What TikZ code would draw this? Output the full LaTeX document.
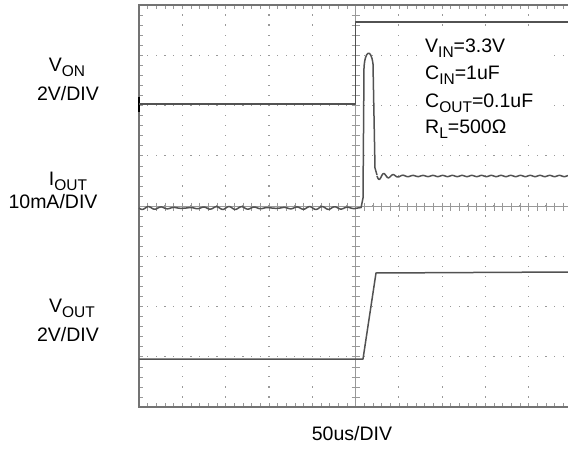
\documentclass[tikz,border=0pt]{standalone}
\usepackage{fontspec}
\setmainfont{Liberation Sans}
\usepackage{tikz}
\usetikzlibrary{positioning}
\tikzset{
    frame/.style = {draw=black!55, line width=1.4pt},
    axis/.style = {draw=black!40, line width=0.6pt},
    gdot/.style = {fill=black!40},
    trace/.style = {draw=black!68, line width=1.5pt, line join=round},
    lbl/.style = {font={\fontsize{19.5pt}{23}\selectfont}, inner sep=0, anchor=base},
    note/.style = {lbl, anchor=base west},
}
\newcommand{\sig}[1]{\raisebox{-5pt}{\fontsize{15.5pt}{16}\selectfont #1}}
\definecolor{scope}{rgb}{1, 1, 1}

\begin{document}
\begin{tikzpicture}[x=1pt, y=-1pt]
        \useasboundingbox (0, 0) rectangle (568, 452);
        \clip (0, 0) rectangle (568, 452);

        % dotted grid
        \foreach \i in {1,...,9} {
            \pgfmathsetmacro\gx{139 + \i*43.3}
            \foreach \j in {1,...,39}
                \fill [gdot] (\gx - 0.6, 5 + \j*10.05 - 0.6) rectangle +(1.2, 1.2);
        }
        \foreach \j in {1,...,7} {
            \pgfmathsetmacro\gy{5 + \j*50.25}
            \foreach \k in {1,...,49}
                \fill [gdot] (139 + \k*8.66 - 0.6, \gy - 0.6) rectangle +(1.2, 1.2);
        }

        % centre axes and edge ticks
        \draw [axis] (355.5, 5) -- (355.5, 407);
        \draw [axis] (139, 206.5) -- (568, 206.5);
        \foreach \j in {1,...,39} {
            \draw [axis] (351.5, 5 + \j*10.05) -- +(8, 0);
            \draw [axis] (139, 5 + \j*10.05) -- +(4, 0);
        }
        \foreach \k in {1,...,49} {
            \draw [axis] (139 + \k*8.66, 202.5) -- +(0, 8);
            \draw [axis] (139 + \k*8.66, 5) -- +(0, 4);
            \draw [axis] (139 + \k*8.66, 407) -- +(0, -4);
        }
        \draw [frame] (570, 5) -- (139, 5) -- (139, 407) -- (570, 407);
        \draw [black, line width=2.6pt] (139, 97) -- (139, 112);

        % traces
        \draw [trace] (139, 104) -- (355.5, 104) -- (355.5, 22) -- (570, 22);
        \draw [trace] plot [domain=139:361, samples=150]
            (\x, {208 + 0.9*sin((\x - 139)*27) + 0.6*sin((\x - 139)*31)});
        \draw [trace] (361, 208) -- (363, 198) -- (364, 68)
            .. controls (365, 50) and (371, 48) .. (373, 64) -- (375, 168) -- (377, 175);
        \draw [trace] plot [domain=377:570, samples=200]
            (\x, {176 + 3.5*exp(-(\x - 377)/12)*sin((\x - 377)*40) + 0.6*sin((\x - 377)*37)});
        \draw [trace] (139, 359) -- (363, 359) -- (376, 273) -- (570, 272);

        % channel labels
        \node [lbl] (von) at (67, 72) {V\sig{ON}};
        \node [lbl] (vonscale) at (68, 100) {2V/DIV};
        \node [lbl] (iout) at (68, 185) {I\sig{OUT}};
        \node [lbl] (ioutscale) at (53, 208) {10mA/DIV};
        \node [lbl] (vout) at (72, 312) {V\sig{OUT}};
        \node [lbl] (voutscale) at (68, 341) {2V/DIV};
        \node [lbl] (tscale) at (352, 440) {50us/DIV};

        % test conditions
        \fill [scope] (421, 34) rectangle (550, 140);
        \node [note] (vin) at (425, 53) {V\sig{IN}=3.3V};
        \node [note] (cin) at (425, 80) {C\sig{IN}=1uF};
        \node [note] (cout) at (425, 107) {C\sig{OUT}=0.1uF};
        \node [note] (rl) at (425, 133) {R\sig{L}=500Ω};
      \end{tikzpicture}
\end{document}
